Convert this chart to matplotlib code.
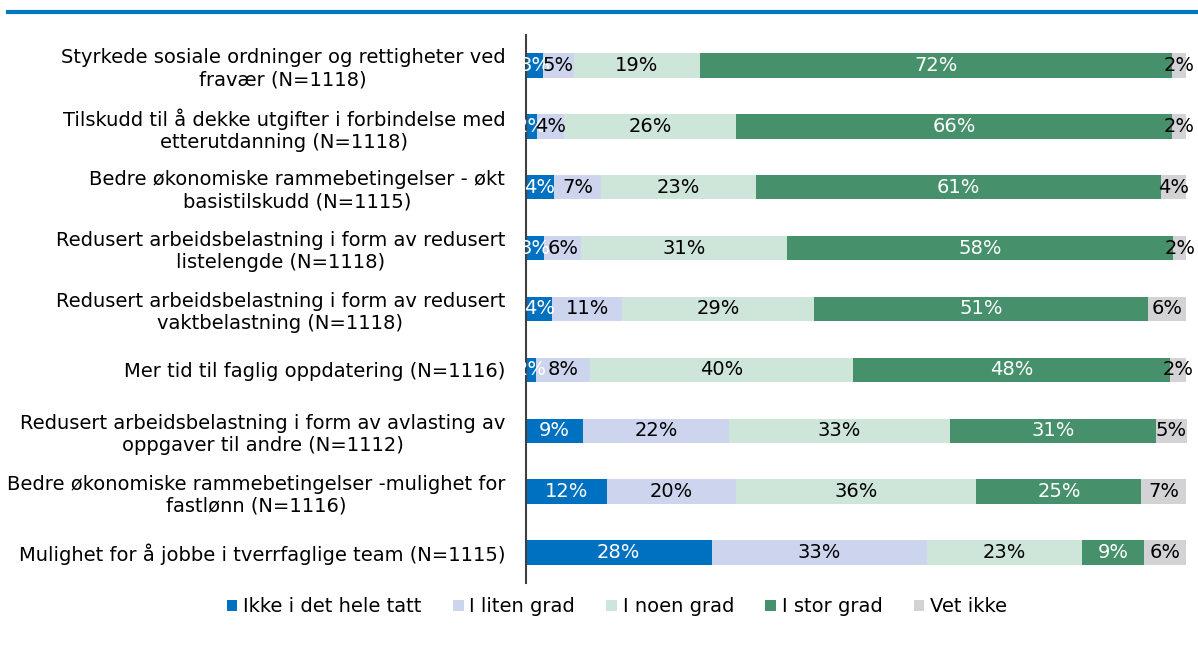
import numpy as np
import matplotlib.pyplot as plt
from matplotlib.lines import Line2D

categories = [
    "Styrkede sosiale ordninger og rettigheter ved\nfravær (N=1118)",
    "Tilskudd til å dekke utgifter i forbindelse med\netterutdanning (N=1118)",
    "Bedre økonomiske rammebetingelser - økt\nbasistilskudd (N=1115)",
    "Redusert arbeidsbelastning i form av redusert\nlistelengde (N=1118)",
    "Redusert arbeidsbelastning i form av redusert\nvaktbelastning (N=1118)",
    "Mer tid til faglig oppdatering (N=1116)",
    "Redusert arbeidsbelastning i form av avlasting av\noppgaver til andre (N=1112)",
    "Bedre økonomiske rammebetingelser -mulighet for\nfastlønn (N=1116)",
    "Mulighet for å jobbe i tverrfaglige team (N=1115)",
]

series_names = ["Ikke i det hele tatt", "I liten grad", "I noen grad", "I stor grad", "Vet ikke"]

# percent per category (estimated from the bars; labels show rounded values)
ikke = [2.6, 1.6, 4.2, 2.7, 4.0, 1.5, 8.6, 12.2, 28.1]
liten = [4.6, 4.2, 7.2, 5.7, 10.6, 8.2, 22.2, 19.6, 32.7]
noen = [19.1, 26.0, 23.4, 31.2, 29.0, 39.8, 33.4, 36.4, 23.4]
stor = [71.5, 66.0, 61.4, 58.4, 50.6, 48.0, 31.2, 25.0, 9.4]
vet = [2.2, 2.2, 3.7, 2.0, 5.8, 2.5, 4.7, 6.8, 6.4]

colors = ["#0070C0", "#CDD5EE", "#CDE6D9", "#46916C", "#D3D3D5"]
label_colors = ["white", "black", "black", "white", "black"]

plt.rcParams['font.family'] = ['DejaVu Sans']

fig = plt.figure(figsize=(11.98, 6.45), dpi=100)
ax = fig.add_axes([526 / 1198, 1 - 583 / 645, (1187 - 526) / 1198, (583 - 35) / 645])

y = np.arange(len(categories))
left = np.zeros(len(categories))
for name, vals, col, tcol in zip(series_names, [ikke, liten, noen, stor, vet], colors, label_colors):
    vals = np.array(vals)
    bars = ax.barh(y, vals, left=left, height=0.4, color=col, label=name)
    ax.bar_label(bars, labels=["%d%%" % round(v) for v in vals], label_type='center',
                 color=tcol, fontsize=14)
    left += vals

ax.set_xlim(0, left.max())
ax.set_ylim(8.5, -0.5)
ax.set_yticks(y)
ax.set_yticklabels(categories, fontsize=14, multialignment='center')
ax.tick_params(axis='y', length=0, pad=15)
ax.set_xticks([])
for s in ["top", "right", "bottom"]:
    ax.spines[s].set_visible(False)
ax.spines["left"].set_color("#404040")
ax.spines["left"].set_linewidth(1.5)

fig.legend(loc="center", bbox_to_anchor=(0.515, 1 - 607 / 645), ncol=5, frameon=False,
           fontsize=14, handlelength=0.55, handleheight=0.55, handletextpad=0.3, columnspacing=1.6)

# blue rule at the top
fig.add_artist(Line2D([8 / 1198, 1], [1 - 12 / 645] * 2, color="#0077C0", linewidth=3))

fig.savefig("out.png", dpi=100)
